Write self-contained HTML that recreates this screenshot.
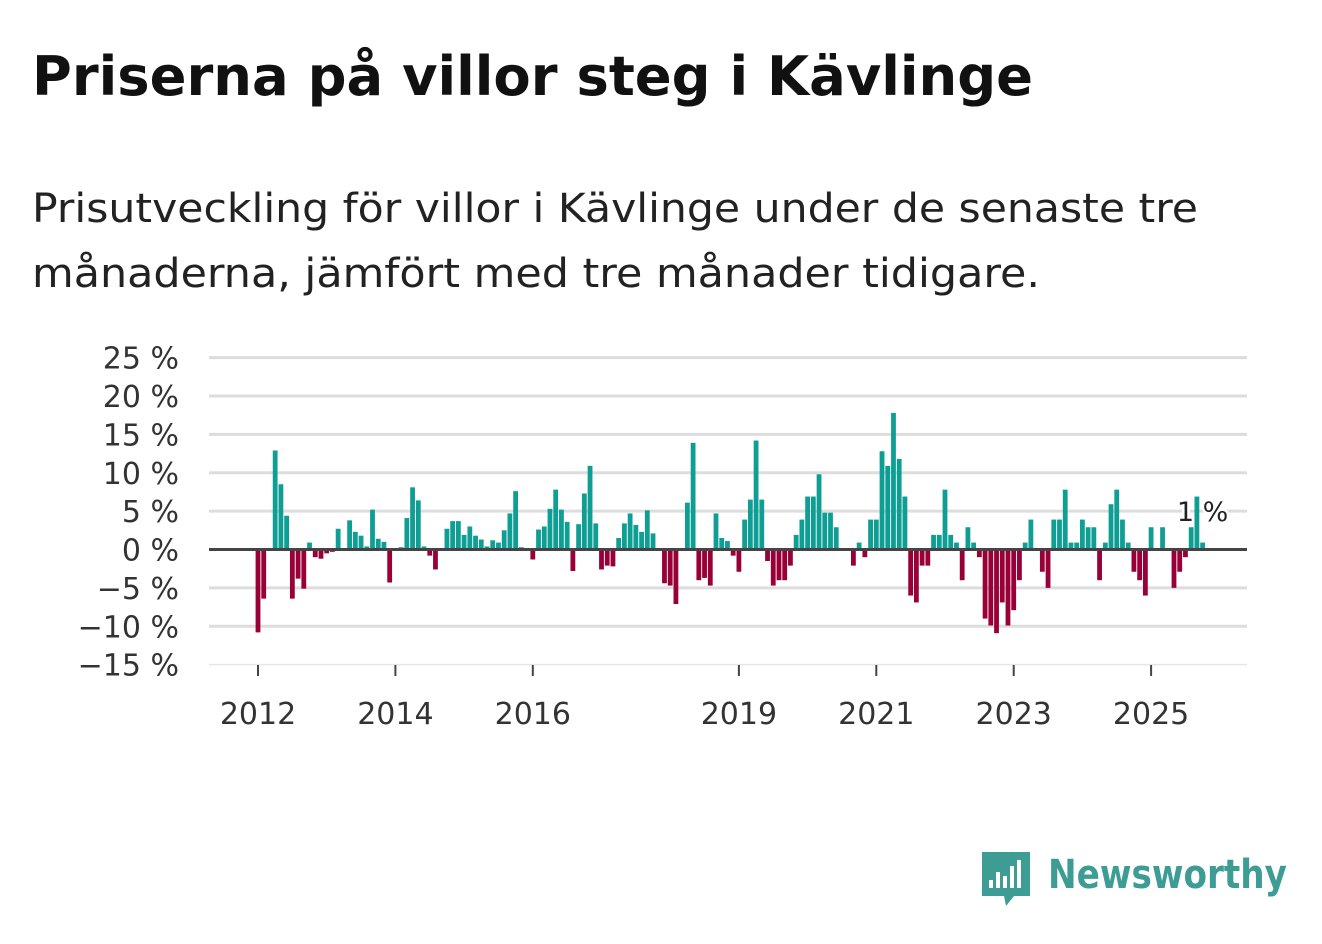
<!DOCTYPE html>
<html><head><meta charset="utf-8"><style>
body{margin:0;background:#fff;width:1322px;height:939px;overflow:hidden;font-family:"Liberation Sans","DejaVu Sans",sans-serif;}
</style></head><body>
<svg width="1322" height="939" xmlns="http://www.w3.org/2000/svg">
<text x="32" y="95" font-size="54" font-weight="bold" fill="#111" font-family="DejaVu Sans, sans-serif" textLength="1001" lengthAdjust="spacingAndGlyphs">Priserna på villor steg i Kävlinge</text>
<text x="32" y="222" font-size="40" fill="#222" font-family="DejaVu Sans, sans-serif" textLength="1166" lengthAdjust="spacingAndGlyphs">Prisutveckling för villor i Kävlinge under de senaste tre</text>
<text x="32" y="287" font-size="40" fill="#222" font-family="DejaVu Sans, sans-serif" textLength="1008" lengthAdjust="spacingAndGlyphs">månaderna, jämfört med tre månader tidigare.</text>
<g id="grid"></g><g id="bars"></g><g id="axes"></g>
<g>
<path d="M982 852 h48 v44 h-16 l-8 10 l-2 -10 h-22 z" fill="#3d9d95"/>
<rect x="989" y="880" width="4" height="8" fill="#fff"/><rect x="996" y="872" width="4" height="16" fill="#fff"/><rect x="1003" y="876" width="4" height="12" fill="#fff"/><rect x="1010" y="866" width="4" height="22" fill="#fff"/><rect x="1017" y="860" width="4" height="28" fill="#fff"/>
<text x="1048" y="888" font-size="40" font-weight="bold" fill="#3d9d95" font-family="DejaVu Sans, sans-serif" textLength="239" lengthAdjust="spacingAndGlyphs">Newsworthy</text>
</g>
</svg>
<script>
const values=[-10.8,-6.4,0,12.9,8.5,4.4,-6.4,-3.8,-5.1,0.9,-1.0,-1.2,-0.5,-0.3,2.7,0,3.8,2.3,1.8,0.4,5.2,1.4,1.0,-4.3,0,0.3,4.1,8.1,6.4,0.4,-0.8,-2.6,0,2.7,3.7,3.7,1.9,3.0,1.8,1.3,0.4,1.2,0.9,2.5,4.7,7.6,0.3,0,-1.3,2.6,3.0,5.3,7.8,5.2,3.6,-2.8,3.3,7.3,10.9,3.4,-2.6,-2.1,-2.2,1.5,3.4,4.7,3.2,2.3,5.1,2.1,0,-4.4,-4.7,-7.1,0,6.1,13.9,-4.0,-3.7,-4.7,4.7,1.5,1.1,-0.8,-2.9,3.9,6.5,14.2,6.5,-1.5,-4.7,-4.0,-4.0,-2.1,1.9,3.9,6.9,6.9,9.8,4.8,4.8,2.9,0,0,-2.1,0.9,-1.0,3.9,3.9,12.8,10.9,17.8,11.8,6.9,-6.0,-6.9,-2.1,-2.1,1.9,1.9,7.8,1.9,0.9,-4.0,2.9,0.9,-1.0,-9.0,-9.9,-10.9,-6.9,-9.9,-7.9,-4.0,0.9,3.9,0,-2.9,-5.0,3.9,3.9,7.8,0.9,0.9,3.9,2.9,2.9,-4.0,0.9,5.9,7.8,3.9,0.9,-2.9,-4.0,-6.0,2.9,0,2.9,0,-5.0,-2.9,-1.0,2.9,6.9,0.9];
const yTicks=[25,20,15,10,5,0,-5,-10,-15];
const yTickLabels=["25 %","20 %","15 %","10 %","5 %","0 %","\u22125 %","\u221210 %","\u221215 %"];
const xYears=[2012,2014,2016,2019,2021,2023,2025];
const lastLabel="1 %";
const NS="http://www.w3.org/2000/svg";
function y(v){return 549.5-v*7.675;}
function x(i){return 258+i*5.725;}
function xYear(yr){return x((yr-2012)*12);}
function mk(t,a,p){const e=document.createElementNS(NS,t);for(const k in a)e.setAttribute(k,a[k]);p.appendChild(e);return e;}
const grid=document.getElementById('grid'),bars=document.getElementById('bars'),axes=document.getElementById('axes');
yTicks.forEach((t,k)=>{
 if(t!==0){const l=mk('line',{x1:209,x2:1247,y1:y(t),y2:y(t),stroke:t===-15?'#e6e6e6':'#dddddd','stroke-width':t===-15?1.5:3},grid);
 
 }
 const tx=mk('text',{x:179,y:y(t)+11,'text-anchor':'end','font-size':30,fill:'#333','font-family':'DejaVu Sans, sans-serif'},axes);
 tx.textContent=yTickLabels[k];
 
 
});
values.forEach((v,i)=>{
 if(v===0)return;
 const r=mk('rect',{x:x(i)-2.4,width:4.8,y:v>0?y(v):y(0),height:Math.abs(y(v)-y(0)),fill:v>0?'#0f9e94':'#990038'},bars);
 
 
});
const z=mk('line',{x1:209,x2:1247,y1:y(0),y2:y(0),stroke:'#444','stroke-width':3},axes);


xYears.forEach(yr=>{
 const t=mk('line',{x1:xYear(yr),x2:xYear(yr),y1:665,y2:676,stroke:'#444','stroke-width':2},axes);
 
 
 const tx=mk('text',{x:xYear(yr),y:724,'text-anchor':'middle','font-size':30,fill:'#333','font-family':'DejaVu Sans, sans-serif'},axes);
 tx.textContent=yr;
 
 
});
const ll=mk('text',{x:x(values.length-1),y:521,'text-anchor':'middle','font-size':27,fill:'#222',stroke:'#fff','stroke-width':5,'paint-order':'stroke','font-family':'DejaVu Sans, sans-serif'},axes);
ll.textContent=lastLabel;


</script>
</body></html>
